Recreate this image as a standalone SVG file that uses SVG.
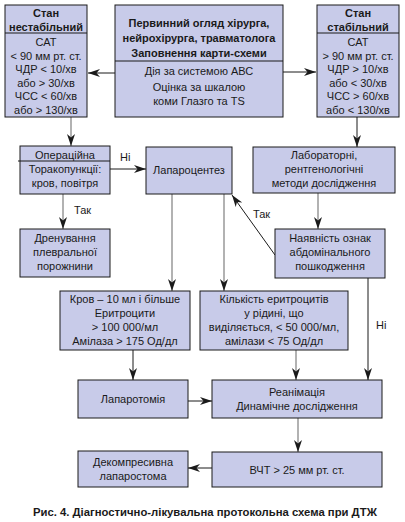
<svg xmlns="http://www.w3.org/2000/svg" width="405" height="522" viewBox="0 0 405 522">
<style>
.box{fill:#c8cbe9;stroke:#1a1a1a;stroke-width:1}
.sep{stroke:#1a1a1a;stroke-width:1}
text{font-family:"Liberation Sans",Arial,sans-serif;font-size:11px;fill:#1a1a1a;text-anchor:middle}
.b{font-weight:bold}
.l{text-anchor:start}
.cap{font-size:11.3px}
.k{stroke:#1a1a1a;stroke-width:1;fill:none}
.g{stroke:#999;stroke-width:1.5;fill:none}
</style>
<defs>
<marker id="ah" markerUnits="userSpaceOnUse" markerWidth="13" markerHeight="9" refX="12" refY="4" orient="auto">
<path d="M0,0 L12,4 L0,8 L3.5,4 z" fill="#1a1a1a"/>
</marker>
</defs>
<rect width="405" height="522" fill="#fff"/>
<g id="connectors">
<line class="k" x1="115" y1="73" x2="88" y2="73" marker-end="url(#ah)"/>
<line class="k" x1="283" y1="72" x2="316" y2="72" marker-end="url(#ah)"/>
<line class="g" x1="71" y1="117" x2="71" y2="146" marker-end="url(#ah)"/>
<line class="k" x1="357" y1="117" x2="357" y2="147" marker-end="url(#ah)"/>
<line class="k" x1="110" y1="169" x2="146" y2="169" marker-end="url(#ah)"/>
<text class="l" x="120" y="161">Ні</text>
<line class="g" x1="63" y1="194" x2="63" y2="229" marker-end="url(#ah)"/>
<text class="l" x="74" y="214">Так</text>
<line class="g" x1="318" y1="193" x2="318" y2="229" marker-end="url(#ah)"/>
<line class="k" x1="275" y1="255" x2="232" y2="195" marker-end="url(#ah)"/>
<text class="l" x="253" y="218">Так</text>
<line class="k" x1="368" y1="278" x2="368" y2="380" marker-end="url(#ah)"/>
<text class="l" x="376" y="329">Ні</text>
<line class="g" x1="172" y1="194" x2="172" y2="291" marker-end="url(#ah)"/>
<line class="g" x1="224" y1="194" x2="224" y2="291" marker-end="url(#ah)"/>
<line class="k" x1="133" y1="350" x2="133" y2="380" marker-end="url(#ah)"/>
<line class="g" x1="296" y1="350" x2="296" y2="380" marker-end="url(#ah)"/>
<line class="k" x1="188" y1="401" x2="212" y2="401" marker-end="url(#ah)"/>
<line class="g" x1="298" y1="418" x2="298" y2="452" marker-end="url(#ah)"/>
<line class="k" x1="212" y1="468" x2="188" y2="468" marker-end="url(#ah)"/>
</g>
<g id="unstable">
<rect class="box" x="5" y="5" width="82" height="112"/>
<line class="sep" x1="5" y1="33" x2="87" y2="33"/>
<text class="b" x="46" y="17">Стан</text>
<text class="b" x="46" y="31">нестабільний</text>
<text x="46" y="46">САТ</text>
<text x="46" y="59.6">&lt; 90 мм рт. ст.</text>
<text x="46" y="73.2">ЧДР &lt; 10/хв</text>
<text x="46" y="86.8">або &gt; 30/хв</text>
<text x="46" y="100.4">ЧСС &lt; 60/хв</text>
<text x="46" y="114">або &gt; 130/хв</text>
</g>
<g id="primary">
<rect class="box" x="115" y="5" width="168" height="112"/>
<line class="sep" x1="115" y1="61" x2="283" y2="61"/>
<text class="b" x="199" y="27">Первинний огляд хірурга,</text>
<text class="b" x="199" y="42">нейрохірурга, травматолога</text>
<text class="b" x="199" y="57">Заповнення карти-схеми</text>
<text x="199" y="75">Дія за системою АВС</text>
<text x="199" y="90.5">Оцінка за шкалою</text>
<text x="199" y="105">коми Глазго та TS</text>
</g>
<g id="stable">
<rect class="box" x="317" y="5" width="82" height="112"/>
<line class="sep" x1="317" y1="33" x2="399" y2="33"/>
<text class="b" x="358" y="17">Стан</text>
<text class="b" x="358" y="31">стабільний</text>
<text x="358" y="46">САТ</text>
<text x="358" y="59.6">&gt; 90 мм рт. ст.</text>
<text x="358" y="73.2">ЧДР &gt; 10/хв</text>
<text x="358" y="86.8">або &lt; 30/хв</text>
<text x="358" y="100.4">ЧСС &gt; 60/хв</text>
<text x="358" y="114">або &lt; 130/хв</text>
</g>
<g id="thoracocentesis">
<rect class="box" x="20" y="146" width="90" height="48"/>
<line class="sep" x1="18" y1="161" x2="110" y2="161"/>
<text x="65" y="159">Операційна</text>
<text x="65" y="173">Торакопункції:</text>
<text x="65" y="187">кров, повітря</text>
</g>
<g id="drainage">
<rect class="box" x="20" y="229" width="90" height="48"/>
<text x="65" y="242">Дренування</text>
<text x="65" y="256">плевральної</text>
<text x="65" y="270">порожнини</text>
</g>
<g id="laparocentesis">
<rect class="box" x="146" y="147" width="86" height="47"/>
<text x="189" y="174">Лапароцентез</text>
</g>
<g id="lab">
<rect class="box" x="253" y="147" width="142" height="46"/>
<text x="324" y="159">Лабораторні,</text>
<text x="324" y="173">рентгенологічні</text>
<text x="324" y="187">методи дослідження</text>
</g>
<g id="signs">
<rect class="box" x="275" y="229" width="110" height="49"/>
<text x="330" y="242">Наявність ознак</text>
<text x="330" y="256">абдомінального</text>
<text x="330" y="270">пошкодження</text>
</g>
<g id="blood">
<rect class="box" x="60" y="291" width="130" height="59"/>
<text x="125" y="303">Кров – 10 мл і більше</text>
<text x="125" y="317">Еритроцити</text>
<text x="125" y="331">&gt; 100 000/мл</text>
<text x="125" y="345">Амілаза &gt; 175 Од/дл</text>
</g>
<g id="count">
<rect class="box" x="200" y="291" width="148" height="59"/>
<text x="274" y="303">Кількість еритроцитів</text>
<text x="274" y="317">у рідині, що</text>
<text x="274" y="331">виділяється, &lt; 50 000/мл,</text>
<text x="274" y="345">амілази &lt; 75 Од/дл</text>
</g>
<g id="laparotomy">
<rect class="box" x="78" y="380" width="110" height="38"/>
<text x="133" y="403">Лапаротомія</text>
</g>
<g id="reanimation">
<rect class="box" x="212" y="380" width="170" height="38"/>
<text x="297" y="396">Реанімація</text>
<text x="297" y="410">Динамічне дослідження</text>
</g>
<g id="iap">
<rect class="box" x="212" y="452" width="170" height="35"/>
<text x="297" y="474">ВЧТ &gt; 25 мм рт. ст.</text>
</g>
<g id="laparostomy">
<rect class="box" x="78" y="451" width="110" height="36"/>
<text x="133" y="466">Декомпресивна</text>
<text x="133" y="480">лапаростома</text>
</g>
<text class="b cap" x="205" y="516">Рис. 4. Діагностично-лікувальна протокольна схема при ДТЖ</text>
</svg>
